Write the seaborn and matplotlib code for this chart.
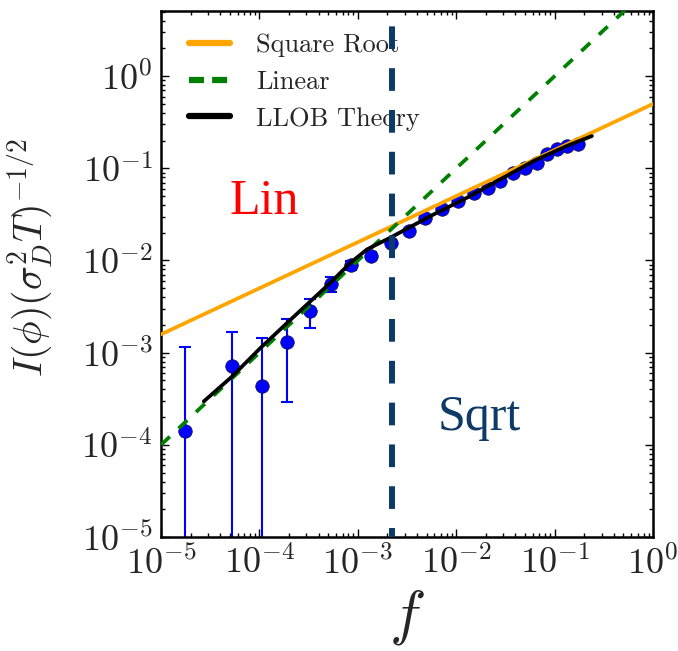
import numpy as np
import pandas as pd
import matplotlib
matplotlib.use("Agg")
import matplotlib.pyplot as plt
from matplotlib.ticker import LogLocator, FuncFormatter, NullFormatter
import seaborn as sns

# measured points (f, I) with error bars
f_data = [1.77e-5, 5.24e-5, 1.07e-4, 1.91e-4, 3.24e-4, 5.3e-4, 8.45e-4,
          1.36e-3, 2.15e-3, 3.3e-3, 4.84e-3, 7.16e-3, 1.05e-2, 1.50e-2,
          2.08e-2, 2.80e-2, 3.77e-2, 5.02e-2, 6.6e-2, 8.33e-2, 0.105,
          0.133, 0.174]
I_data = [1.43e-4, 7.1e-4, 4.31e-4, 1.29e-3, 2.86e-3, 5.62e-3, 8.89e-3,
          1.13e-2, 1.56e-2, 2.07e-2, 2.91e-2, 3.58e-2, 4.42e-2, 5.35e-2,
          6.17e-2, 7.28e-2, 8.97e-2, 0.102, 0.115, 0.142, 0.161,
          0.174, 0.182]
I_err = [1.0e-3, 0.98e-3, 1.02e-3, 1.0e-3, 1.0e-3, 1.05e-3, 1.0e-3,
         1.0e-3, 1.0e-3, 1.0e-3, 1.0e-3, 1.0e-3, 1.0e-3, 1.0e-3,
         1.0e-3, 1.0e-3, 1.0e-3, 1.0e-3, 1.0e-3, 1.0e-3, 1.0e-3,
         1.0e-3, 1.0e-3]

# reference lines (end points on log-log axes)
sqrt_f = [1e-5, 1e0]
sqrt_I = [1.58e-3, 0.5]
lin_f = [1e-5, 1e0]
lin_I = [1e-4, 10.0]

# LLOB theory curve
llob_f = [2.72e-5, 5.28e-5, 1.02e-4, 1.91e-4, 3.30e-4, 5.26e-4, 8.4e-4,
          1.24e-3, 2.14e-3, 5.89e-3, 1.29e-2, 2.80e-2, 6.1e-2, 0.133, 0.239]
llob_I = [2.96e-4, 5.52e-4, 1.12e-3, 2.10e-3, 3.61e-3, 5.73e-3, 9.44e-3,
          1.32e-2, 1.77e-2, 3.16e-2, 4.81e-2, 7.59e-2, 0.120, 0.175, 0.224]

f_cross = 2.2e-3

sns.set_theme(style="ticks")
plt.rcParams["mathtext.fontset"] = "cm"
plt.rcParams["font.family"] = ["DejaVu Serif"]

navy = "#0d3a66"

fig = plt.figure(figsize=(6.78, 6.51), dpi=100)
ax = fig.add_axes([0.2375, 0.1751, 0.7257, 0.808])
ax.set_xscale("log")
ax.set_yscale("log")

# data with error bars
ax.errorbar(f_data, I_data, yerr=I_err, fmt="none", ecolor="blue",
            elinewidth=1.5, capsize=4.3, capthick=1.5, zorder=2)
pts = pd.DataFrame({"f": f_data, "I": I_data})
sns.scatterplot(data=pts, x="f", y="I", ax=ax, color="blue", s=95,
                edgecolor="#101030", linewidth=0.5, legend=False, zorder=3)

# theory lines
sns.lineplot(x=sqrt_f, y=sqrt_I, ax=ax, color="orange", lw=2.7,
             label="Square Root", zorder=4)
sns.lineplot(x=lin_f, y=lin_I, ax=ax, color="green", lw=2.7,
             label="Linear", zorder=4)
ax.lines[-1].set_dashes((3.2, 3.2))
sns.lineplot(x=llob_f, y=llob_I, ax=ax, color="black", lw=2.7, sort=False,
             estimator=None, label="LLOB Theory", zorder=5)

ax.axvline(f_cross, color=navy, lw=4.3, ls=(2.3, (3.8, 3.2)), zorder=6)

ax.set_xlim(1e-5, 1e0)
ax.set_ylim(1e-5, 5.09)

dec_fmt = FuncFormatter(lambda v, p: r"$10^{%d}$" % int(round(np.log10(v))))
for axis in (ax.xaxis, ax.yaxis):
    axis.set_major_locator(LogLocator(base=10, numticks=20))
    axis.set_minor_locator(LogLocator(base=10, subs=np.arange(2, 10), numticks=100))
    axis.set_major_formatter(dec_fmt)
    axis.set_minor_formatter(NullFormatter())

ax.tick_params(which="both", direction="in", top=True, right=True,
               color="black", width=1.0)
ax.tick_params(which="major", length=5.8, labelsize=26, pad=6)
ax.tick_params(which="minor", length=2.9)
for sp in ax.spines.values():
    sp.set_linewidth(1.8)
    sp.set_color("black")

ax.set_xlabel(r"$f$", fontsize=44)
ax.xaxis.set_label_coords(0.5, -0.095)
ax.set_ylabel(r"$I(\phi)(\sigma_D^2T)^{-1/2}$", fontsize=28.5)
ax.yaxis.set_label_coords(-0.215, 0.532)

ax.text(4.95e-5, 0.0316, "Lin", color="red", fontsize=36,
        family="Liberation Serif", ha="left", va="baseline")
ax.text(6.41e-3, 1.46e-4, "Sqrt", color=navy, fontsize=36,
        family="Liberation Serif", ha="left", va="baseline")

leg = ax.legend(loc="upper left", bbox_to_anchor=(0.057, 0.958),
                frameon=False, prop={"family": "cmr10", "size": 19},
                handlelength=1.55, handletextpad=1.0, labelspacing=0.5,
                borderpad=0, borderaxespad=0)
for h in leg.legend_handles:
    h.set_linewidth(4.5)
leg.legend_handles[1].set_dashes((2.4, 1.3))

fig.savefig("out.png", dpi=100)
